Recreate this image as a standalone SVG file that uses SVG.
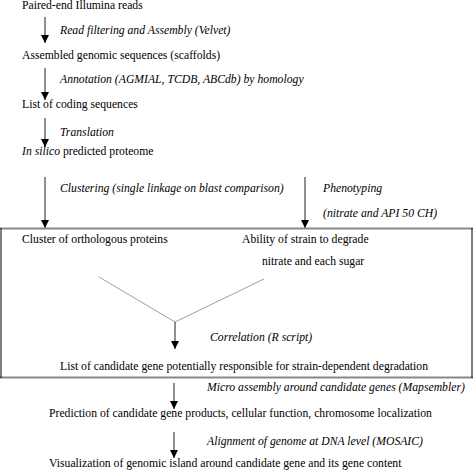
<svg xmlns="http://www.w3.org/2000/svg" width="473" height="476" viewBox="0 0 473 476">
<defs>
<style>
text{font-family:"Liberation Serif","Times New Roman","DejaVu Serif",serif;font-size:11.7px;fill:#000}
.i{font-style:italic}
.a{stroke:#444;stroke-width:1.2;fill:none}
.v{stroke:#888;stroke-width:0.8;fill:none}
</style>
<marker id="ah" markerWidth="8" markerHeight="8" viewBox="0 0 8 8" refX="8" refY="4" orient="auto" markerUnits="userSpaceOnUse">
<path d="M0,0 L8,4 L0,8 Z" fill="#000"/>
</marker>
</defs>
<rect width="473" height="476" fill="#fff"/>
<g id="connectors">
<line class="a" x1="45" y1="17" x2="45" y2="43" marker-end="url(#ah)"/>
<line class="a" x1="45" y1="68" x2="45" y2="100" marker-end="url(#ah)"/>
<line class="a" x1="45" y1="118" x2="45" y2="147" marker-end="url(#ah)"/>
<line class="a" x1="45" y1="177" x2="45" y2="228" marker-end="url(#ah)"/>
<line class="a" x1="305" y1="177" x2="305" y2="228" marker-end="url(#ah)"/>
<polyline class="v" points="99,277 175,322 264,279"/>
<line class="a" x1="175" y1="322" x2="175" y2="349" marker-end="url(#ah)"/>
<line class="a" x1="174" y1="383" x2="174" y2="409" marker-end="url(#ah)"/>
<line class="a" x1="174" y1="432" x2="174" y2="458" marker-end="url(#ah)"/>
</g>
<g id="labels">
<text class="i" x="60" y="34">Read filtering and Assembly (Velvet)</text>
<text class="i" x="60" y="83">Annotation (AGMIAL, TCDB, ABCdb) by homology</text>
<text class="i" x="60" y="136">Translation</text>
<text class="i" x="60" y="192">Clustering (single linkage on blast comparison)</text>
<text class="i" x="323" y="192">Phenotyping</text>
<text class="i" x="323" y="217">(nitrate and API 50 CH)</text>
<text class="i" x="210" y="341">Correlation (R script)</text>
<text class="i" x="207" y="391">Micro assembly around candidate genes (Mapsembler)</text>
<text class="i" x="207" y="445">Alignment of genome at DNA level (MOSAIC)</text>
</g>
<g id="n1"><text x="22" y="9">Paired-end Illumina reads</text></g>
<g id="n2"><text x="22" y="59">Assembled genomic sequences (scaffolds)</text></g>
<g id="n3"><text x="22" y="108">List of coding sequences</text></g>
<g id="n4"><text x="22" y="155"><tspan class="i">In silico</tspan> predicted proteome</text></g>
<g id="box">
<line x1="0" y1="228.5" x2="473" y2="228.5" stroke="#888" stroke-width="2"/>
<line x1="0" y1="377.5" x2="473" y2="377.5" stroke="#888" stroke-width="2"/>
<line x1="1" y1="228" x2="1" y2="378" stroke="#000" stroke-width="1"/>
<line x1="472" y1="228" x2="472" y2="378" stroke="#000" stroke-width="1"/>
</g>
<g id="n5"><text x="22" y="243">Cluster of orthologous proteins</text></g>
<g id="n6"><text x="242" y="243">Ability of strain to degrade</text><text x="262" y="265">nitrate and each sugar</text></g>
<g id="n7"><text x="60" y="370">List of candidate gene potentially responsible for strain-dependent degradation</text></g>
<g id="n8"><text x="49" y="417">Prediction of candidate gene products, cellular function, chromosome localization</text></g>
<g id="n9"><text x="49" y="467">Visualization of genomic island around candidate gene and its gene content</text></g>
</svg>
